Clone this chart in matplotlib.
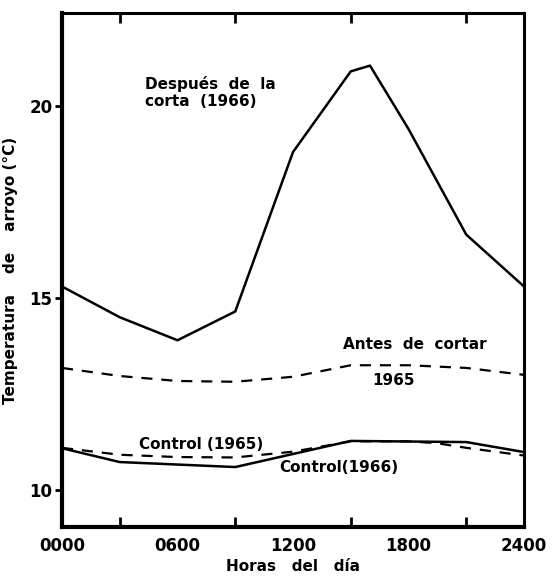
import numpy as np
import matplotlib
matplotlib.use("Agg")
import matplotlib.pyplot as plt

# hours of day and stream temperatures (deg C)
hours_after = [0, 3, 6, 9, 12, 15, 16, 18, 21, 24]
after_cut_1966 = [15.3, 14.5, 13.9, 14.65, 18.8, 20.9, 21.05, 19.4, 16.65, 15.3]

hours_before = [0, 3, 6, 9, 12, 15, 18, 21, 24]
before_cut_1965 = [13.18, 12.97, 12.84, 12.82, 12.95, 13.25, 13.25, 13.18, 13.0]

hours_ctrl65 = [0, 3, 6, 9, 12, 15, 18, 19.5, 21, 24]
control_1965 = [11.1, 10.92, 10.86, 10.85, 11.0, 11.27, 11.27, 11.22, 11.1, 10.9]

hours_ctrl66 = [0, 3, 9, 15, 21, 24]
control_1966 = [11.09, 10.73, 10.6, 11.28, 11.25, 10.99]

xtick_pos = [0, 6, 12, 18, 24]
xtick_labels = ["0000", "0600", "1200", "1800", "2400"]
ytick_pos = [10, 15, 20]

plt.rcParams["font.family"] = "DejaVu Sans"
plt.rcParams["font.weight"] = "bold"

fig = plt.figure(figsize=(5.52, 5.77), dpi=100)
ax = fig.add_axes([0.1123, 0.0867, 0.837, 0.8908])

ax.plot(hours_after, after_cut_1966, color="black", lw=1.8)
ax.plot(hours_before, before_cut_1965, color="black", lw=1.6, ls=(0, (5, 4)))
ax.plot(hours_ctrl65, control_1965, color="black", lw=1.6, ls=(0, (5, 4)))
ax.plot(hours_ctrl66, control_1966, color="black", lw=1.8)

ax.set_xlim(0, 24)
ax.set_ylim(9.04, 22.42)

ax.set_xticks(xtick_pos)
ax.set_xticklabels(xtick_labels)
ax.set_xticks(np.arange(3, 24, 3), minor=True)
ax.set_yticks(ytick_pos)
ax.set_yticks([10, 15, 20], minor=True)

ax.tick_params(axis="x", which="both", direction="in", length=7, width=2,
               top=True, labelsize=12, pad=7)
ax.tick_params(axis="x", which="major", length=0)
ax.tick_params(axis="y", which="major", direction="out", length=5, width=2,
               labelsize=12, pad=2)
ax.tick_params(axis="y", which="minor", direction="in", length=7, width=2,
               right=True, left=False)

for side in ["left", "bottom"]:
    ax.spines[side].set_linewidth(3)
for side in ["top", "right"]:
    ax.spines[side].set_linewidth(2.2)

for lbl in ax.get_xticklabels() + ax.get_yticklabels():
    lbl.set_fontweight("bold")

ax.set_xlabel("Horas   del   día", fontsize=11, fontweight="bold", labelpad=3)
ax.set_ylabel("Temperatura    de    arroyo (°C)", fontsize=11, fontweight="bold",
              labelpad=8)

ax.text(4.3, 20.35, "Después  de  la\ncorta  (1966)", fontsize=11,
        fontweight="bold", va="center", ha="left", linespacing=1.1)
ax.text(14.6, 13.8, "Antes  de  cortar", fontsize=11, fontweight="bold",
        va="center", ha="left")
ax.text(17.2, 12.86, "1965", fontsize=11, fontweight="bold",
        va="center", ha="center")
ax.text(4.0, 11.18, "Control (1965)", fontsize=11, fontweight="bold",
        va="center", ha="left")
ax.text(11.3, 10.58, "Control(1966)", fontsize=11, fontweight="bold",
        va="center", ha="left")

fig.savefig("out.png", dpi=100)
